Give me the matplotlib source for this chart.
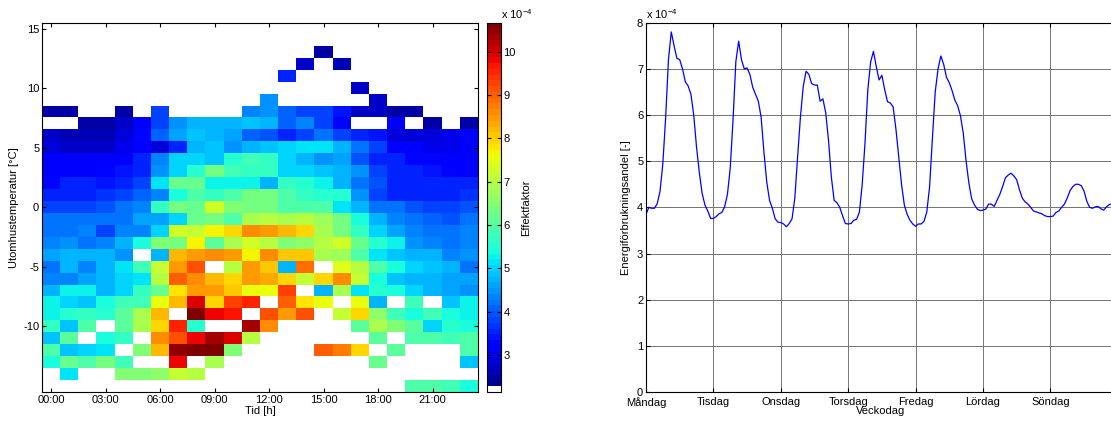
import numpy as np
import matplotlib
matplotlib.use('Agg')
import matplotlib.pyplot as plt
from matplotlib.colors import ListedColormap

plt.rcParams['font.family'] = ['Liberation Sans', 'DejaVu Sans']
plt.rcParams['font.size'] = 8
plt.rcParams['axes.unicode_minus'] = False

n = np.nan

# heatmap: hour of day vs outdoor temperature, values in 1e-4
hours = list(range(24))
hour_ticks = [0, 3, 6, 9, 12, 15, 18, 21]
hour_labels = ['00:00', '03:00', '06:00', '09:00', '12:00', '15:00', '18:00', '21:00']
temp_ticks = [-10, -5, 0, 5, 10, 15]

# rows from +15 degC (top) down to -15 degC (bottom)
effekt = [
    [n] * 24,                                                                                   # 15
    [n] * 24,                                                                                   # 14
    [n] * 15 + [2.5] + [n] * 8,                                                                 # 13
    [n] * 14 + [2.8, n, 2.6] + [n] * 7,                                                         # 12
    [n] * 13 + [3.6] + [n] * 10,                                                                # 11
    [n] * 17 + [2.8] + [n] * 6,                                                                 # 10
    [n] * 12 + [4.5] + [n] * 5 + [2.7] + [n] * 5,                                               # 9
    [2.5, 2.5, n, n, 2.5, n, 3.85, n, n, n, n, 4.4, 4.5, 4.1, 3.85, 3.8, 3.4, 2.8, 2.7, 2.5, 2.5, n, n, n],  # 8
    [n, n, 2.5, 2.5, 2.8, 3.1, 3.85, 4.5, 4.7, 4.7, 4.75, 4.9, 4.8, 4.05, 4.4, 3.8, 3.3, n, n, 3.2, n, 2.5, n, 2.5],  # 7
    [2.7, 2.6, 2.65, 2.65, 2.85, 3.25, 4.1, 4.6, 4.9, 4.7, 4.55, 4.1, 4.0, 3.5, 3.85, 4.15, 3.85, 3.6, 3.4, 2.9, 2.9, 2.9, 3.0, 3.1],  # 6
    [2.85, 2.8, 2.7, 2.7, 3.0, 3.1, 2.9, 3.5, 4.7, 4.9, 4.5, 4.75, 4.9, 5.05, 5.1, 5.1, 4.75, 4.15, 3.75, 3.2, 3.1, 3.05, 3.05, 3.1],  # 5
    [3.1, 3.1, 3.1, 3.1, 3.2, 3.6, 4.4, 5.0, 5.0, 4.9, 5.55, 5.8, 5.7, 5.05, 4.8, 4.5, 4.6, 3.95, 3.6, 3.5, 3.3, 3.25, 3.2, 3.15],  # 4
    [3.2, 3.2, 3.2, 3.3, 3.4, 3.6, 4.5, 5.0, 5.55, 6.3, 5.8, 5.7, 5.7, 5.05, 5.0, 4.9, 4.8, 4.5, 3.85, 3.6, 3.5, 3.4, 3.3, 3.2],  # 3
    [3.3, 3.5, 3.5, 3.4, 3.5, 3.85, 5.2, 6.2, 6.2, 5.25, 5.25, 5.25, 4.8, 5.65, 5.55, 5.25, 4.8, 4.15, 3.95, 3.6, 3.6, 3.5, 3.5, 3.5],  # 2
    [3.6, 3.6, 3.6, 3.7, 3.85, 4.05, 4.4, 5.35, 6.0, 5.65, 6.0, 6.4, 6.4, 6.0, 5.65, 5.55, 5.55, 4.5, 3.75, 3.6, 3.6, 3.6, 3.6, 3.7],  # 1
    [3.85, 3.85, 3.75, 3.95, 4.15, 4.4, 5.65, 6.4, 6.2, 7.25, 6.5, 6.3, 6.3, 6.0, 6.0, 6.0, 5.1, 4.8, 4.25, 4.15, 3.95, 3.85, 3.85, 3.95],  # 0
    [4.15, 4.15, 4.15, 4.15, 4.15, 4.6, 4.6, 5.0, 6.2, 6.4, 5.9, 6.85, 7.05, 6.85, 6.95, 6.75, 6.4, 5.45, 4.8, 4.4, 4.25, 4.05, 3.95, 4.25],  # -1
    [4.15, 4.15, 4.3, 3.85, 4.3, 4.4, 5.0, 7.25, 7.15, 7.7, 8.0, 8.55, 8.45, 8.2, 7.9, 6.85, 6.4, 5.65, 5.0, 4.6, 4.4, 4.25, 4.25, 4.4],  # -2
    [4.4, 4.5, 4.25, 4.4, 4.8, 5.35, 6.5, 6.3, 7.7, 6.1, 6.85, 7.25, 7.05, 6.5, 6.6, 7.05, 7.25, 6.2, 5.55, 5.25, 4.5, 4.4, 4.25, 4.4],  # -3
    [4.6, 4.8, 4.7, 4.8, 4.5, n, 4.7, 8.2, 8.45, 8.55, 8.45, 7.7, 8.65, 8.1, 8.1, 6.85, 6.75, 6.0, 5.1, 4.9, 4.8, 4.7, 4.4, 4.5],  # -4
    [4.25, 4.7, 4.4, 4.7, 5.1, 5.8, 7.15, 8.45, 9.1, n, 6.95, 8.45, 8.1, 4.8, 8.85, n, 7.47, 6.95, 6.0, 5.35, 5.0, 4.9, 4.8, 4.15],  # -5
    [4.4, 4.4, 4.6, 4.7, 5.0, 5.1, 7.05, 9.0, 8.55, 8.2, 8.0, 8.45, 8.35, 7.9, 7.15, 8.0, 8.55, 7.15, 5.35, 4.9, 4.8, 4.7, 4.6, 4.6],  # -6
    [4.7, 5.25, 5.25, 4.7, 5.0, 5.65, 6.2, 7.8, 8.45, 8.45, 8.1, 7.6, 7.6, 9.3, n, 4.8, 6.85, 5.1, 5.55, 5.35, 5.0, 4.8, 4.6, 4.5],  # -7
    [5.25, 5.0, 4.9, 5.35, 5.8, 5.8, 7.6, 8.2, 9.9, 7.9, 9.3, 9.6, n, 9.0, 7.8, 7.6, n, 7.6, 4.8, n, 5.8, n, 4.9, 5.25],  # -8
    [5.25, 5.55, 5.65, 5.55, 6.1, 6.85, 8.2, n, 10.67, 9.8, 9.7, n, 9.2, 8.45, 9.1, n, 7.15, 7.9, 6.6, 5.8, 5.35, 5.8, 5.45, 5.25],  # -9
    [5.65, 4.9, 6.0, n, 6.1, 6.85, 7.9, 9.6, 5.55, n, n, 10.35, 8.55, n, n, n, n, 6.1, 6.85, 6.5, 6.1, 5.0, 5.55, 5.35],  # -10
    [4.9, 6.1, n, 5.45, 5.65, n, 8.55, 9.1, 9.8, 10.4, 10.0, 6.95, n, n, n, n, n, n, 6.1, n, 5.9, 5.9, 5.8, 5.9],  # -11
    [5.9, 4.9, 5.0, 5.1, n, 6.5, 8.2, 10.45, 10.55, 10.67, 6.5, n, n, n, n, 9.0, 8.75, 7.9, n, 6.1, n, n, n, 5.9],  # -12
    [5.35, 6.2, 5.9, 6.3, 5.8, n, n, 9.8, n, 6.85, n, n, n, n, n, n, n, n, 6.2, n, n, n, n, 4.9],  # -13
    [n, 5.1, n, n, 6.5, 6.5, 6.6, 7.15, 6.95] + [n] * 15,                                       # -14
    [n] * 20 + [5.9, 5.9, 5.8, 5.35],                                                           # -15
]
cbar_ticks = [3, 4, 5, 6, 7, 8, 9, 10]

# weekly profile, hourly values in 1e-4
day_names = ['Måndag', 'Tisdag', 'Onsdag', 'Torsdag', 'Fredag', 'Lördag', 'Söndag']
monday = [3.85, 4.0, 3.98, 3.98, 4.08, 4.35, 4.95, 5.95, 7.2, 7.8, 7.5, 7.23,
          7.2, 7.0, 6.72, 6.63, 6.45, 6.0, 5.3, 4.75, 4.3, 4.05, 3.92, 3.76]
tuesday = [3.76, 3.8, 3.86, 3.89, 4.01, 4.28, 4.85, 5.9, 7.16, 7.6, 7.2, 7.0,
           7.02, 6.88, 6.6, 6.45, 6.3, 5.95, 5.2, 4.55, 4.15, 3.98, 3.75, 3.68]
wednesday = [3.67, 3.64, 3.58, 3.65, 3.75, 4.2, 5.1, 5.96, 6.62, 6.95, 6.88, 6.68,
             6.65, 6.65, 6.3, 6.35, 6.05, 5.45, 4.66, 4.15, 4.1, 4.0, 3.82, 3.65]
thursday = [3.64, 3.65, 3.72, 3.74, 3.9, 4.5, 5.4, 6.55, 7.15, 7.38, 7.05, 6.76,
            6.86, 6.55, 6.29, 6.26, 6.18, 5.7, 5.1, 4.5, 4.05, 3.85, 3.72, 3.64]
friday = [3.59, 3.64, 3.64, 3.7, 3.9, 4.45, 5.5, 6.5, 7.0, 7.28, 7.1, 6.82,
          6.7, 6.53, 6.32, 6.2, 5.98, 5.6, 5.0, 4.52, 4.18, 4.05, 3.96, 3.93]
saturday = [3.94, 3.96, 4.07, 4.07, 4.02, 4.15, 4.28, 4.45, 4.64, 4.7, 4.74, 4.68,
            4.6, 4.38, 4.2, 4.12, 4.07, 4.0, 3.92, 3.9, 3.88, 3.86, 3.82, 3.8]
sunday = [3.8, 3.81, 3.89, 3.92, 4.0, 4.07, 4.2, 4.36, 4.45, 4.5, 4.5, 4.47,
          4.35, 4.13, 4.0, 3.98, 4.01, 4.02, 3.97, 3.94, 4.01, 4.06, 4.08]


def make_cmap():
    colors = plt.get_cmap('jet', 64)(np.arange(64))
    colors[0] = [1, 1, 1, 1]
    cmap = ListedColormap(colors)
    cmap.set_bad('white')
    return cmap


def draw_heatmap(fig):
    ax = fig.add_axes([42 / 1111, 1 - 392 / 421, 436 / 1111, 369.3 / 421])
    grid = np.array(effekt, dtype=float)
    im = ax.imshow(grid, cmap=make_cmap(), vmin=2.15, vmax=10.67, origin='upper',
                   extent=(hours[0] - 0.5, hours[-1] + 0.5, -15.5, 15.5),
                   aspect='auto', interpolation='nearest')
    ax.set_xticks(hour_ticks)
    ax.set_xticklabels(hour_labels)
    ax.set_yticks(temp_ticks)
    ax.tick_params(direction='in', top=True, right=True, length=3, pad=2)
    ax.set_xlabel('Tid [h]', labelpad=1)
    ax.set_ylabel('Utomhustemperatur [°C]', labelpad=3)

    cax = fig.add_axes([487.3 / 1111, 1 - 392 / 421, 13.4 / 1111, 369.3 / 421])
    cb = fig.colorbar(im, cax=cax)
    cb.set_ticks(cbar_ticks)
    cb.ax.tick_params(direction='in', left=True, right=True, length=3, pad=2)
    cb.outline.set_linewidth(0.8)
    cb.set_label('Effektfaktor', labelpad=4)
    cax.text(1.0, 1.004, r'x 10$^{\mathregular{-4}}$', transform=cax.transAxes,
             ha='left', va='bottom')


def draw_week(fig):
    vals = monday + tuesday + wednesday + thursday + friday + saturday + sunday
    ax = fig.add_axes([646 / 1111, 1 - 392 / 421, 167 * 2.808 / 1111, 369.3 / 421])
    ax.plot(np.arange(len(vals)), vals, color='#0000ff', lw=0.9)
    ax.set_xlim(0, 167)
    ax.set_ylim(0, 8)
    ax.set_xticks([24 * i for i in range(len(day_names))])
    ax.set_xticklabels(day_names)
    ax.set_yticks(range(9))
    ax.grid(True, color='0.45', lw=0.7)
    ax.tick_params(direction='in', top=True, right=True, length=3, pad=2)
    ax.tick_params(axis='x', pad=3.5)
    ax.set_xlabel('Veckodag', labelpad=-1)
    ax.set_ylabel('Energiförbrukningsandel [-]', labelpad=4)
    ax.text(0.0, 1.004, r'x 10$^{\mathregular{-4}}$', transform=ax.transAxes,
            ha='left', va='bottom')


def main():
    fig = plt.figure(figsize=(11.11, 4.21), dpi=100)
    draw_heatmap(fig)
    draw_week(fig)
    fig.savefig('out.png', dpi=100)
    plt.close(fig)


if __name__ == '__main__':
    main()
